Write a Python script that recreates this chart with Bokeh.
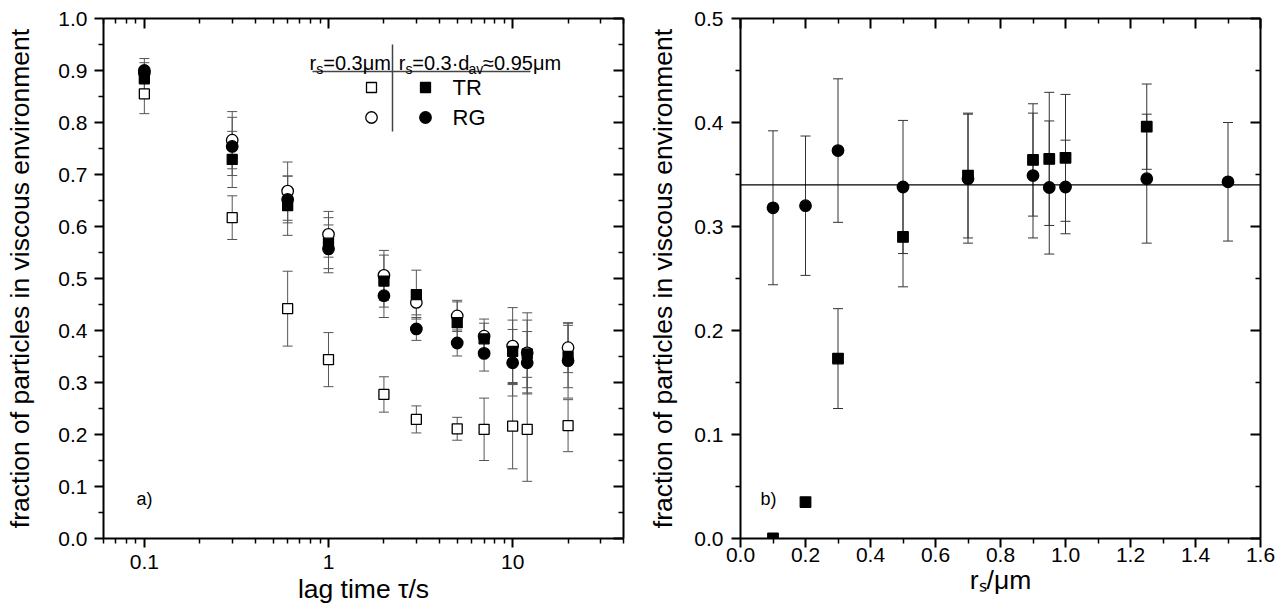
from math import log10
from bokeh.plotting import figure
from bokeh.layouts import row
from bokeh.models import (ColumnDataSource, Whisker, TeeHead, FixedTicker, LinearAxis, LogAxis,
                          PrintfTickFormatter, CustomJSTickFormatter, Label, Range1d, Span)
from bokeh.embed import file_html
from bokeh.resources import INLINE

FONT = "Liberation Sans"

# ---------------- panel a) : fraction vs lag time ----------------
lag_time = [0.1, 0.3, 0.6, 1, 2, 3, 5, 7, 10, 12, 20]
tr_small = [0.855, 0.617, 0.442, 0.344, 0.277, 0.229, 0.211, 0.210, 0.216, 0.210, 0.217]
tr_small_err = [0.038, 0.042, 0.072, 0.052, 0.034, 0.026, 0.022, 0.060, 0.082, 0.100, 0.050]
rg_small = [0.895, 0.766, 0.668, 0.585, 0.506, 0.454, 0.428, 0.389, 0.370, 0.357, 0.367]
rg_small_err = [0.020, 0.055, 0.056, 0.044, 0.048, 0.024, 0.030, 0.033, 0.074, 0.077, 0.048]
tr_large = [0.884, 0.729, 0.640, 0.568, 0.495, 0.469, 0.415, 0.384, 0.360, 0.355, 0.350]
tr_large_err = [0.020, 0.054, 0.057, 0.049, 0.050, 0.047, 0.040, 0.030, 0.060, 0.065, 0.060]
rg_large = [0.900, 0.754, 0.652, 0.557, 0.467, 0.403, 0.376, 0.356, 0.338, 0.338, 0.342]
rg_large_err = [0.023, 0.056, 0.045, 0.046, 0.042, 0.022, 0.025, 0.034, 0.064, 0.060, 0.072]

a_x_ticks = [0.1, 1, 10]
a_x_minor = [0.06, 0.07, 0.08, 0.09, 0.2, 0.3, 0.4, 0.5, 0.6, 0.7, 0.8, 0.9,
             2, 3, 4, 5, 6, 7, 8, 9, 20, 30, 40]
a_y_ticks = [0.0, 0.1, 0.2, 0.3, 0.4, 0.5, 0.6, 0.7, 0.8, 0.9, 1.0]
a_y_minor = [0.05, 0.15, 0.25, 0.35, 0.45, 0.55, 0.65, 0.75, 0.85, 0.95]

# ---------------- panel b) : fraction vs probe radius ----------------
radius_tr = [0.1, 0.2, 0.3, 0.5, 0.7, 0.9, 0.95, 1.0, 1.25]
frac_tr = [0.0, 0.035, 0.173, 0.290, 0.349, 0.364, 0.365, 0.366, 0.396]
frac_tr_err = [None, None, 0.048, 0.048, 0.060, 0.054, 0.064, 0.061, 0.041]
radius_rg = [0.1, 0.2, 0.3, 0.5, 0.7, 0.9, 0.95, 1.0, 1.25, 1.5]
frac_rg = [0.318, 0.320, 0.373, 0.338, 0.346, 0.349, 0.3375, 0.338, 0.346, 0.343]
frac_rg_err = [0.074, 0.067, 0.069, 0.064, 0.062, 0.060, 0.064, 0.045, 0.062, 0.057]
mean_fraction = 0.34

b_x_ticks = [0.0, 0.2, 0.4, 0.6, 0.8, 1.0, 1.2, 1.4, 1.6]
b_x_minor = [0.1, 0.3, 0.5, 0.7, 0.9, 1.1, 1.3, 1.5]
b_y_ticks = [0.0, 0.1, 0.2, 0.3, 0.4, 0.5]
b_y_minor = [0.05, 0.15, 0.25, 0.35, 0.45]

Y_LABEL = "fraction of particles in viscous environment"
A_X_LABEL = "lag time τ/s"
B_X_LABEL = "rₛ/μm"

# layout geometry (pixels in the picture) used to place annotations
H = 616
TOP, FH = 18, 520
A_L, A_W = 103, 520
A_XMIN, A_XMAX = 0.06, 40
WA = 645
B_L, B_W = 740, 520
B_XMAX, B_YMAX = 1.6, 0.5
WB = 637


def a_x(px):
    return 10 ** (log10(A_XMIN) + (px - A_L) / A_W * log10(A_XMAX / A_XMIN))


def a_y(py):
    return (TOP + FH - py) / FH


def b_x(px):
    return (px - B_L) / B_W * B_XMAX


def b_y(py):
    return (TOP + FH - py) / FH * B_YMAX


def style_axis(ax, ticker, formatter=None, outer=True, label_standoff=6):
    ax.ticker = ticker
    if formatter is not None:
        ax.formatter = formatter
    ax.axis_line_color = "black"
    ax.axis_line_width = 2
    ax.major_tick_line_color = "black"
    ax.major_tick_line_width = 2
    ax.minor_tick_line_color = "black"
    ax.minor_tick_line_width = 1.5
    if outer:
        ax.major_tick_out, ax.major_tick_in = 9, 0
        ax.minor_tick_out, ax.minor_tick_in = 5, 0
        ax.major_label_text_font = FONT
        ax.major_label_text_font_size = "21px"
        ax.major_label_text_color = "black"
        ax.major_label_standoff = label_standoff
    else:
        ax.major_tick_out, ax.major_tick_in = 0, 10
        ax.minor_tick_out, ax.minor_tick_in = 0, 5
        ax.major_label_text_font_size = "1px"
        ax.major_label_text_color = None
        ax.major_label_standoff = 0


def style_label(ax, label, standoff):
    ax.axis_label = label
    ax.axis_label_text_font = FONT
    ax.axis_label_text_font_size = "26.5px"
    ax.axis_label_text_font_style = "normal"
    ax.axis_label_text_color = "black"
    ax.axis_label_standoff = standoff


def add_series(p, x, y, err, marker, size, fill, whisker_color="#555555"):
    wx, lo, hi = [], [], []
    for xi, yi, ei in zip(x, y, err):
        if ei is not None:
            wx.append(xi)
            lo.append(yi - ei)
            hi.append(yi + ei)
    wsrc = ColumnDataSource(dict(x=wx, lo=lo, hi=hi))
    p.add_layout(Whisker(source=wsrc, base="x", lower="lo", upper="hi",
                         line_color=whisker_color, line_width=1,
                         lower_head=TeeHead(size=10, line_color=whisker_color, line_width=1),
                         upper_head=TeeHead(size=10, line_color=whisker_color, line_width=1)))
    src = ColumnDataSource(dict(x=x, y=y))
    p.scatter("x", "y", source=src, marker=marker, size=size, fill_color=fill,
              line_color="black", line_width=1.3)


def text(p, x, y, s, size, align="left", baseline="alphabetic"):
    p.add_layout(Label(x=x, y=y, text=s, text_font=FONT, text_font_size=size,
                       text_color="black", text_align=align, text_baseline=baseline))


# ======================= figure a) =======================
pa = figure(width=WA, height=H, x_axis_type="log",
            x_range=Range1d(A_XMIN, A_XMAX), y_range=Range1d(0, 1),
            output_backend="svg", toolbar_location=None,
            min_border_left=A_L, min_border_right=WA - A_L - A_W,
            min_border_top=TOP, min_border_bottom=H - TOP - FH,
            background_fill_color="white", border_fill_color="white", outline_line_color=None)
pa.grid.visible = False

style_axis(pa.xaxis[0], FixedTicker(ticks=a_x_ticks, minor_ticks=a_x_minor),
           CustomJSTickFormatter(code="return tick.toString();"), label_standoff=7)
style_label(pa.xaxis[0], A_X_LABEL, 2)
style_axis(pa.yaxis[0], FixedTicker(ticks=a_y_ticks, minor_ticks=a_y_minor),
           PrintfTickFormatter(format="%.1f"), label_standoff=7)
style_label(pa.yaxis[0], Y_LABEL, 20)
top_a = LogAxis()
style_axis(top_a, FixedTicker(ticks=a_x_ticks, minor_ticks=a_x_minor), outer=False)
pa.add_layout(top_a, "above")
right_a = LinearAxis()
style_axis(right_a, FixedTicker(ticks=a_y_ticks, minor_ticks=a_y_minor), outer=False)
pa.add_layout(right_a, "right")

add_series(pa, lag_time, tr_small, tr_small_err, "square", 10, "white")
add_series(pa, lag_time, rg_small, rg_small_err, "circle", 11.5, "white")
add_series(pa, lag_time, tr_large, tr_large_err, "square", 10, "black")
add_series(pa, lag_time, rg_large, rg_large_err, "circle", 11.5, "black")

# legend table
pa.segment(x0=[a_x(312), a_x(392)], y0=[a_y(71), a_y(44)],
           x1=[a_x(530), a_x(392)], y1=[a_y(71), a_y(131)],
           line_color="#444444", line_width=1.5)
text(pa, a_x(309), a_y(62), "r", "20px")
text(pa, a_x(315.7), a_y(68.5), "s", "14px")
text(pa, a_x(322.7), a_y(62), "=0.3μm", "20px")
text(pa, a_x(398.3), a_y(62), "r", "20px")
text(pa, a_x(405), a_y(68.5), "s", "14px")
text(pa, a_x(411.7), a_y(62), "=0.3·d", "20px")
text(pa, a_x(468), a_y(68.5), "av", "14px")
text(pa, a_x(482.5), a_y(62), "≈0.95μm", "20px")
pa.scatter(x=[a_x(371)], y=[a_y(87)], marker="square", size=10, fill_color="white",
           line_color="black", line_width=1.3)
pa.scatter(x=[a_x(425)], y=[a_y(87)], marker="square", size=10, fill_color="black",
           line_color="black", line_width=1.3)
pa.scatter(x=[a_x(371)], y=[a_y(117)], marker="circle", size=11.5, fill_color="white",
           line_color="black", line_width=1.3)
pa.scatter(x=[a_x(425)], y=[a_y(117)], marker="circle", size=11.5, fill_color="black",
           line_color="black", line_width=1.3)
text(pa, a_x(452), a_y(87), "TR", "22px", baseline="middle")
text(pa, a_x(452), a_y(117), "RG", "22px", baseline="middle")
text(pa, a_x(136), a_y(498), "a)", "18px", baseline="middle")

# ======================= figure b) =======================
pb = figure(width=WB, height=H,
            x_range=Range1d(0, B_XMAX), y_range=Range1d(0, B_YMAX),
            output_backend="svg", toolbar_location=None,
            min_border_left=B_L - WA, min_border_right=WA + WB - B_L - B_W,
            min_border_top=TOP, min_border_bottom=H - TOP - FH,
            background_fill_color="white", border_fill_color="white", outline_line_color=None)
pb.grid.visible = False

style_axis(pb.xaxis[0], FixedTicker(ticks=b_x_ticks, minor_ticks=b_x_minor),
           PrintfTickFormatter(format="%.1f"), label_standoff=0)
style_label(pb.xaxis[0], B_X_LABEL, 0)
style_axis(pb.yaxis[0], FixedTicker(ticks=b_y_ticks, minor_ticks=b_y_minor),
           PrintfTickFormatter(format="%.1f"), label_standoff=8)
style_label(pb.yaxis[0], Y_LABEL, 13)
top_b = LinearAxis()
style_axis(top_b, FixedTicker(ticks=b_x_ticks, minor_ticks=b_x_minor), outer=False)
pb.add_layout(top_b, "above")
right_b = LinearAxis()
style_axis(right_b, FixedTicker(ticks=b_y_ticks, minor_ticks=b_y_minor), outer=False)
pb.add_layout(right_b, "right")

pb.add_layout(Span(location=mean_fraction, dimension="width", line_color="black", line_width=1.3))
add_series(pb, radius_rg, frac_rg, frac_rg_err, "circle", 11.5, "black", "#333333")
add_series(pb, radius_tr, frac_tr, frac_tr_err, "square", 10.5, "black", "#333333")

text(pb, b_x(760), b_y(498), "b)", "18px", baseline="middle")

layout = row(pa, pb)
open("out.html", "w").write(file_html(layout, INLINE))
